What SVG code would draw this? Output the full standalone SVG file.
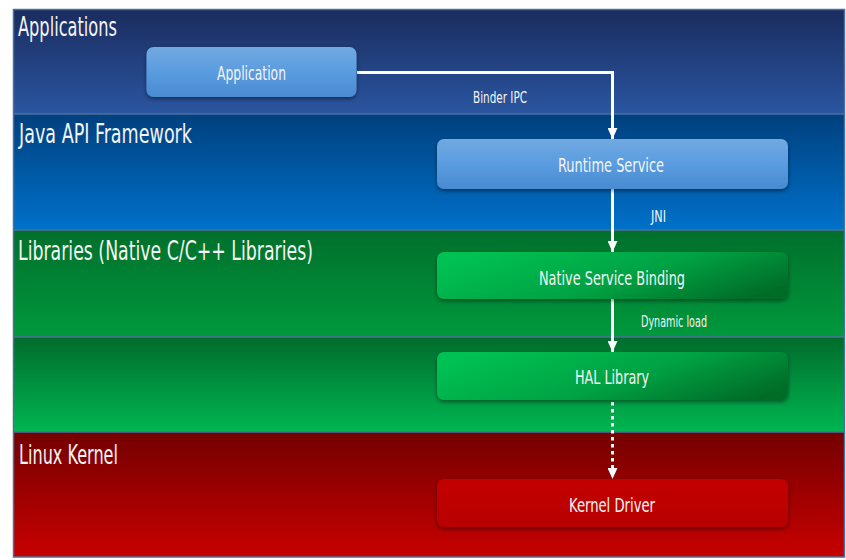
<svg xmlns="http://www.w3.org/2000/svg" width="846" height="560" viewBox="0 0 846 560">
<defs>
<linearGradient id="gApp" x1="0" y1="0" x2="0" y2="1"><stop offset="0" stop-color="#1a2c5e"/><stop offset="1" stop-color="#2b56a1"/></linearGradient>
<linearGradient id="gJava" x1="0" y1="0" x2="0" y2="1"><stop offset="0" stop-color="#00407e"/><stop offset="1" stop-color="#0071ca"/></linearGradient>
<linearGradient id="gLib" x1="0" y1="0" x2="0" y2="1"><stop offset="0" stop-color="#006f2b"/><stop offset="1" stop-color="#00993d"/></linearGradient>
<linearGradient id="gHal" x1="0" y1="0" x2="0" y2="1"><stop offset="0" stop-color="#006c2b"/><stop offset="1" stop-color="#00b652"/></linearGradient>
<linearGradient id="gKer" x1="0" y1="0" x2="0" y2="1"><stop offset="0" stop-color="#740000"/><stop offset="1" stop-color="#c80000"/></linearGradient>
<linearGradient id="nBlue" x1="0" y1="0" x2="0" y2="1"><stop offset="0" stop-color="#71a9e0"/><stop offset="0.5" stop-color="#5a9ce0"/><stop offset="1" stop-color="#4a8ad0"/></linearGradient>
<linearGradient id="nGreen" x1="0" y1="0.3" x2="1" y2="0.7"><stop offset="0" stop-color="#00c152"/><stop offset="0.55" stop-color="#00a243"/><stop offset="1" stop-color="#006d28"/></linearGradient>
<linearGradient id="nRed" x1="0" y1="0" x2="0" y2="1"><stop offset="0" stop-color="#c40000"/><stop offset="1" stop-color="#b80000"/></linearGradient>
<filter id="sh" x="-10%" y="-30%" width="120%" height="170%"><feDropShadow dx="0" dy="2" stdDeviation="2" flood-color="#000" flood-opacity="0.45"/></filter>
<marker id="ah" viewBox="0 0 11 10" refX="11" refY="5" markerWidth="11" markerHeight="10" markerUnits="userSpaceOnUse" orient="auto"><path d="M0,0 L11,5 L0,10 Z" fill="#fff"/></marker>
</defs>
<style>
text{font-family:"Liberation Sans Narrow","DejaVu Sans Condensed","Liberation Sans",sans-serif;fill:#f4f4f4;}
.lay{font-size:26px;}
.nd{font-size:20px;text-anchor:middle;}
.lb{font-size:15px;}
.sep{stroke:#4d6f9c;stroke-width:1.5;fill:none;}
.con{stroke:#fff;stroke-width:3;fill:none;}
</style>
<g id="layers">
<rect x="13.5" y="9.5" width="831" height="105" fill="url(#gApp)"/>
<rect x="13.5" y="114" width="831" height="116" fill="url(#gJava)"/>
<rect x="13.5" y="230" width="831" height="107" fill="url(#gLib)"/>
<rect x="13.5" y="337" width="831" height="95" fill="url(#gHal)"/>
<rect x="13.5" y="432" width="831" height="125" fill="url(#gKer)"/>
<line class="sep" x1="13.5" y1="114" x2="844.5" y2="114"/>
<line class="sep" x1="13.5" y1="230" x2="844.5" y2="230"/>
<line class="sep" x1="13.5" y1="337" x2="844.5" y2="337"/>
<line class="sep" x1="13.5" y1="432" x2="844.5" y2="432"/>
<rect x="13.5" y="9.5" width="831" height="547.5" fill="none" stroke="#4d6f9c" stroke-width="1.5"/>
<text class="lay" x="18" y="36" textLength="99" lengthAdjust="spacingAndGlyphs">Applications</text>
<text class="lay" x="19" y="143" font-size="24" textLength="173" lengthAdjust="spacingAndGlyphs">Java API Framework</text>
<text class="lay" x="18" y="260" font-size="24" textLength="295" lengthAdjust="spacingAndGlyphs">Libraries (Native C/C++ Libraries)</text>
<text class="lay" x="19" y="464" textLength="99" lengthAdjust="spacingAndGlyphs">Linux Kernel</text>
</g>
<g id="connectors">
<polyline class="con" points="357,72.5 612.5,72.5 612.5,139" marker-end="url(#ah)"/>
<line class="con" x1="612.5" y1="189" x2="612.5" y2="252" marker-end="url(#ah)"/>
<line class="con" x1="612.5" y1="299" x2="612.5" y2="352" marker-end="url(#ah)"/>
<line class="con" x1="612.5" y1="402" x2="612.5" y2="479" stroke-width="3.5" stroke-dasharray="3.5,3.5" marker-end="url(#ah)"/>
<text class="lb" x="473" y="103" textLength="54" lengthAdjust="spacingAndGlyphs">Binder IPC</text>
<text class="lb" x="651" y="222" textLength="15" lengthAdjust="spacingAndGlyphs">JNI</text>
<text class="lb" x="641" y="327" textLength="66" lengthAdjust="spacingAndGlyphs">Dynamic load</text>
</g>
<g id="node-application">
<rect x="146.5" y="47" width="210" height="50" rx="7" fill="url(#nBlue)" filter="url(#sh)"/>
<text class="nd" x="251.5" y="80" textLength="69" lengthAdjust="spacingAndGlyphs">Application</text>
</g>
<g id="node-runtime">
<rect x="437" y="139" width="351" height="50" rx="7" fill="url(#nBlue)" filter="url(#sh)"/>
<text class="nd" x="611" y="172" textLength="106" lengthAdjust="spacingAndGlyphs">Runtime Service</text>
</g>
<g id="node-native">
<rect x="437" y="252" width="351" height="47" rx="7" fill="url(#nGreen)" filter="url(#sh)"/>
<text class="nd" x="612" y="285" textLength="146" lengthAdjust="spacingAndGlyphs">Native Service Binding</text>
</g>
<g id="node-hal">
<rect x="437" y="352" width="351" height="48" rx="7" fill="url(#nGreen)" filter="url(#sh)"/>
<text class="nd" x="612" y="384" textLength="74" lengthAdjust="spacingAndGlyphs">HAL Library</text>
</g>
<g id="node-kernel">
<rect x="437" y="479" width="351" height="48" rx="7" fill="url(#nRed)" filter="url(#sh)"/>
<text class="nd" x="612" y="512" textLength="86" lengthAdjust="spacingAndGlyphs">Kernel Driver</text>
</g>
</svg>
